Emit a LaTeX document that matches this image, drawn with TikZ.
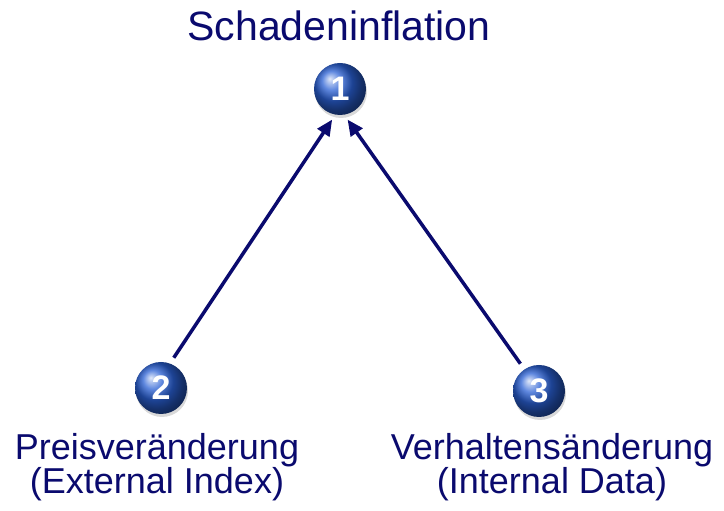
\documentclass[tikz,border=0pt]{standalone}
\usepackage{fontspec}
\setmainfont{Liberation Sans}
\definecolor{INFnavy}{HTML}{0A0A6E}
\definecolor{INFball}{HTML}{2A60D4}
\usetikzlibrary{arrows.meta, shadows}

\tikzset{
   ball/.style={circle, minimum size=52pt, inner sep=0pt, outer sep=0pt,
      ball color=INFball, text=white, font=\bfseries\fontsize{34}{34}\selectfont,
      drop shadow={shadow xshift=1pt, shadow yshift=-3pt, opacity=0.3}},
   link/.style={INFnavy, line width=3.5pt, shorten <=7pt, shorten >=6pt,
      -{Triangle[length=16pt, width=14pt]}},
   lbl/.style={INFnavy, align=center, anchor=base,
      font=\fontsize{36}{34}\selectfont}
}

\begin{document}
\begin{tikzpicture}[x=1pt, y=1pt]
   \useasboundingbox (0,0) rectangle (724,511);
   % Title
   \node[INFnavy, anchor=base, font=\fontsize{41}{41}\selectfont] (title) at (339,470) {Schadeninflation};
   % Numbered balls
   \node[ball] (b1) at (340,422) {1};
   \node[ball] (b2) at (161,123) {2};
   \node[ball] (b3) at (539,120) {3};
   % Labels below the balls (base = last line)
   \node[lbl] (l2) at (157,17) {Preisveränderung\\(External Index)};
   \node[lbl] (l3) at (552,17) {Verhaltensänderung\\(Internal Data)};
   % Arrows into the top ball
   \draw[link] (b2.70) -- (b1.260);
   \draw[link] (b3.124) -- (b1.279);
\end{tikzpicture}
\end{document}
